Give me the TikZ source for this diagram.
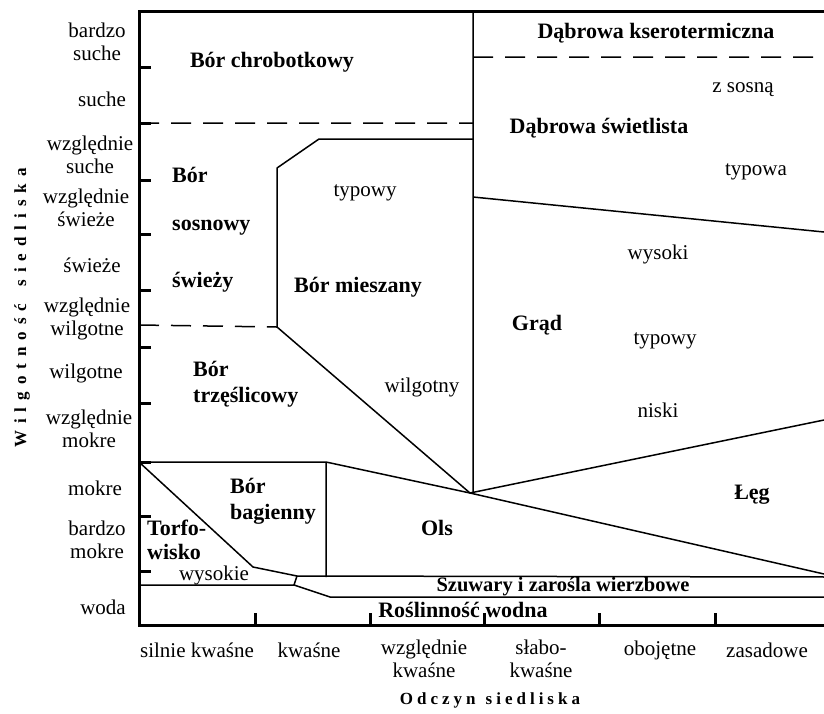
\documentclass[tikz,border=0pt]{standalone}
\usepackage{fontspec}
\setmainfont{Liberation Serif}
\usepackage{tikz}
\tikzstyle{os}=[line width=3pt]
\tikzstyle{granica}=[line width=1.5pt, line join=round]
\tikzstyle{przerywana}=[line width=1.5pt, dash pattern=on 20pt off 12pt]
\tikzstyle{etykieta}=[inner sep=0pt, align=center, font=\fontsize{21}{23}\selectfont]
\tikzstyle{zbiorowisko}=[inner sep=0pt, align=left, font=\bfseries\fontsize{22}{26}\selectfont]
\tikzstyle{tytul}=[inner sep=0pt, font=\bfseries\fontsize{17}{19}\selectfont]

\begin{document}
\begin{tikzpicture}[x=1pt, y=-1pt]
			\useasboundingbox (0,0) rectangle (824,713);
			% punkty wykresu
			\coordinate (lg) at (139,11);
			\coordinate (ld) at (139,625);
			\coordinate (pg) at (830,11);
			\coordinate (pd) at (830,625);
			\coordinate (zbieg) at (470,493);
			\coordinate (mg) at (473,139);
			\coordinate (m1) at (319,139);
			\coordinate (m2) at (277,168);
			\coordinate (m3) at (277,327);
			\coordinate (bg) at (326,462);
			\coordinate (bd) at (326,577);
			\coordinate (t1) at (139,462);
			\coordinate (t2) at (253,567);
			\coordinate (t3) at (297,576);
			\coordinate (t4) at (294,585);
			\coordinate (t5) at (330,597);
			% linie granic
			\path[przerywana, draw=black] (139,123)--(473,123) (139,325)--(m3) (473,57)--(830,57);
			\path[granica, draw=black] (473,11)--(473,492) (473,197)--(824,232);
			\path[granica, draw=black] (mg)--(m1)--(m2)--(m3)--(zbieg)--(824,420);
			\path[granica, draw=black] (t1)--(bg)--(zbieg)--(824,574) (bg)--(bd);
			\path[granica, draw=black] (t1)--(t2)--(t3)--(t4)--(t5)--(830,597) (t3)--(830,577) (139,585)--(t4);
			% osie
			\path[os, draw=black] (pg)--(lg)--(ld)--(pd);
			\foreach \y in {67,123,180,234,290,347,403,462,516,571}
				\path[os, draw=black] (139,\y)--(151,\y);
			\foreach \x in {255,370,484,599,715}
				\path[os, draw=black] (\x,625)--(\x,613);
			% opisy osi
			\node[etykieta] (w1) at (97,42) {bardzo\\suche};
			\node[etykieta] (w2) at (102,99) {suche};
			\node[etykieta] (w3) at (90,155) {względnie\\suche};
			\node[etykieta] (w4) at (86,208) {względnie\\świeże};
			\node[etykieta] (w5) at (92,265) {świeże};
			\node[etykieta] (w6) at (87,319) {względnie\\wilgotne};
			\node[etykieta] (w7) at (86,373) {wilgotne};
			\node[etykieta] (w8) at (89,429) {względnie\\mokre};
			\node[etykieta] (w9) at (95,488) {mokre};
			\node[etykieta] (w10) at (97,540) {bardzo\\mokre};
			\node[etykieta] (w11) at (103,607) {woda};
			\node[etykieta] (o1) at (197,650) {silnie kwaśne};
			\node[etykieta] (o2) at (309,650) {kwaśne};
			\node[etykieta] (o3) at (424,659) {względnie\\kwaśne};
			\node[etykieta] (o4) at (541,659) {słabo-\\kwaśne};
			\node[etykieta] (o5) at (660,650) {obojętne};
			\node[etykieta] (o6) at (767,650) {zasadowe};
			\node[tytul, rotate=90] (wilg) at (22,308) {\spaceskip=7pt W i l g o t n o ś ć\hspace{17pt}s i e d l i s k a};
			\node[tytul] (odcz) at (490,700) {\spaceskip=4pt O d c z y n\hspace{10pt}s i e d l i s k a};
			% zbiorowiska
			\node[zbiorowisko] (chrob) at (272,62) {Bór chrobotkowy};
			\node[zbiorowisko] (kser) at (656,33) {Dąbrowa kserotermiczna};
			\node[etykieta] (sosna) at (743,90) {z sosną};
			\node[zbiorowisko] (swiet) at (599,128) {Dąbrowa świetlista};
			\node[etykieta] (typowa) at (756,172) {typowa};
			\node[etykieta] (wysoki) at (658,254) {wysoki};
			\node[zbiorowisko] (grad) at (537,325) {Grąd};
			\node[etykieta] (typgrad) at (665,341) {typowy};
			\node[etykieta] (niski) at (658,410) {niski};
			\node[zbiorowisko] (leg) at (752,495) {Łęg};
			\node[zbiorowisko, anchor=west] (bor1) at (172,175) {Bór};
			\node[zbiorowisko, anchor=west] (bor2) at (172,228) {sosnowy};
			\node[zbiorowisko, anchor=west] (bor3) at (172,282) {świeży};
			\node[etykieta] (typmiesz) at (365,193) {typowy};
			\node[zbiorowisko] (miesz) at (358,287) {Bór mieszany};
			\node[etykieta] (wilgmiesz) at (422,387) {wilgotny};
			\node[zbiorowisko, anchor=west] (trzes) at (193,384) {Bór\\trzęślicowy};
			\node[zbiorowisko, anchor=west] (bagno) at (230,501) {Bór\\bagienny};
			\node[zbiorowisko, anchor=west, font=\bfseries\fontsize{22}{24}\selectfont] (torf) at (147,540) {Torfo-\\wisko};
			\node[etykieta] (wysokie) at (214,575) {wysokie};
			\node[zbiorowisko] (ols) at (437,528) {Ols};
			\node[zbiorowisko, font=\bfseries\fontsize{20.5}{22}\selectfont] (szuw) at (563,587) {Szuwary i zarośla wierzbowe};
			\node[zbiorowisko] (wodna) at (463,610) {Roślinność wodna};
		\end{tikzpicture}
\end{document}
